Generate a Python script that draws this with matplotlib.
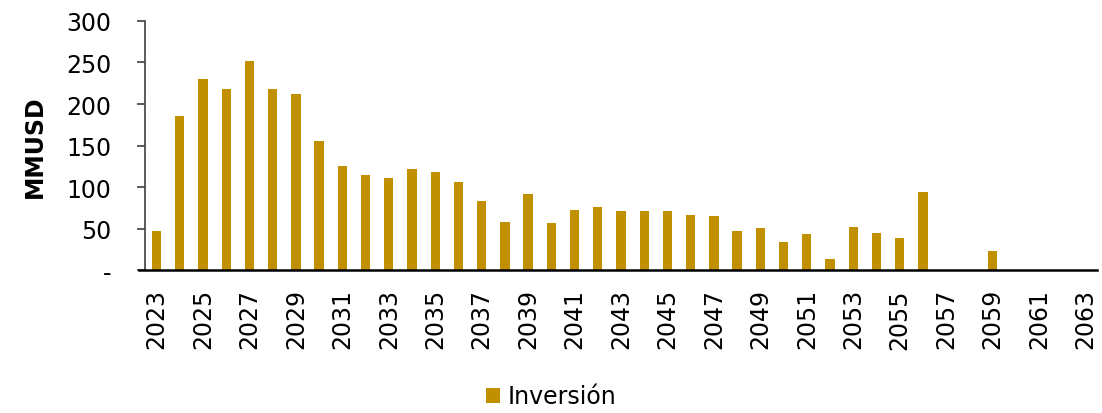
import numpy as np
import matplotlib.pyplot as plt

years = list(range(2023, 2064))
inversion = [47, 185, 230, 218, 252, 218, 212, 156, 125, 115,
             111, 122, 118, 106, 83, 58, 92, 57, 73, 76,
             71, 71, 71, 66, 65, 47, 51, 34, 44, 13,
             52, 45, 39, 94, 0, 0, 23, 0, 0, 0, 0]
y_ticks = [0, 50, 100, 150, 200, 250, 300]
y_labels = ['-', '50', '100', '150', '200', '250', '300']

plt.rcParams['font.family'] = ['DejaVu Sans']
fig = plt.figure(figsize=(11.02, 4.14), dpi=100)
ax = fig.add_axes([0.1315, 0.345, 0.864, 0.602])

x = np.arange(len(years))
ax.bar(x, inversion, width=0.4, color='#C09000', label='Inversión')

ax.set_xlim(-0.5, len(years) - 0.5)
ax.set_ylim(0, 300)
ax.set_yticks(y_ticks)
ax.set_yticklabels(y_labels, fontsize=17)
ax.set_xticks(x[::2])
ax.set_xticklabels([str(y) for y in years[::2]], rotation=90, fontsize=17)
ax.tick_params(axis='x', length=0, pad=13)
ax.tick_params(axis='y', length=6, width=1.2, color='#404040', pad=18)

ax.spines['top'].set_visible(False)
ax.spines['right'].set_visible(False)
ax.spines['left'].set_color('#404040')
ax.spines['left'].set_linewidth(1.2)
ax.spines['bottom'].set_color('black')
ax.spines['bottom'].set_linewidth(1.8)
ax.spines['bottom'].set_bounds(-0.76, len(years) - 0.5)

ax.set_ylabel('MMUSD', fontsize=17, fontweight='bold', labelpad=14)

fig.legend(loc='center', bbox_to_anchor=(0.5, 0.04), frameon=False,
           fontsize=17, handlelength=0.6, handleheight=0.6, handletextpad=0.3)

fig.savefig('out.png', dpi=100)
